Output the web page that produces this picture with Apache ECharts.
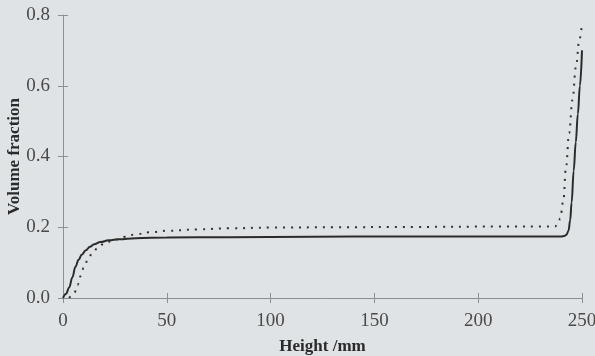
<!DOCTYPE html>
<html>
<head>
<meta charset="utf-8">
<style>
  html, body { margin: 0; padding: 0; background: #dfe3e5; }
  #chart { width: 595px; height: 356px; }
</style>
<script src="https://cdn.jsdelivr.net/npm/echarts@6/dist/echarts.min.js"></script>
</head>
<body>
<div id="chart"></div>
<script>
// Volume fraction profile along the column height, two model results
const xTicks = [0, 50, 100, 150, 200, 250];
const yTicks = [0.0, 0.2, 0.4, 0.6, 0.8];

// Solid curve: [height mm, volume fraction]
const solidHeight = [0, 1.5, 3, 4.5, 6, 7.5, 9, 11, 13, 15, 18, 22, 27, 35, 50, 80, 120, 160, 200, 230, 240, 241.5, 242.5, 243.5, 244.3, 245, 246, 247, 248, 249, 250];
const solidFraction = [0, 0.012, 0.03, 0.058, 0.088, 0.108, 0.122, 0.135, 0.145, 0.152, 0.158, 0.163, 0.166, 0.169, 0.171, 0.172, 0.173, 0.174, 0.174, 0.174, 0.174, 0.175, 0.179, 0.19, 0.22, 0.27, 0.36, 0.44, 0.52, 0.6, 0.70];

// Dotted curve: [height mm, volume fraction]
const dottedHeight = [3, 4.5, 5.5, 7, 8.5, 10, 12, 14, 16.5, 20, 25, 30, 35, 42, 50, 65, 80, 100, 130, 170, 210, 237, 238.5, 239.5, 241, 242.3, 243.8, 245.4, 247.1, 248.7, 250];
const dottedFraction = [0, 0.008, 0.015, 0.037, 0.062, 0.085, 0.108, 0.126, 0.14, 0.155, 0.165, 0.173, 0.18, 0.186, 0.19, 0.194, 0.197, 0.199, 0.2, 0.201, 0.202, 0.202, 0.21, 0.225, 0.275, 0.37, 0.466, 0.56, 0.654, 0.729, 0.776];

const pairs = (xs, ys) => xs.map((x, i) => [x, ys[i]]);

const serif = '"Liberation Serif", "DejaVu Serif", serif';
const axisGrey = '#8c8f91';
const inkColor = '#2b2b2b';

const xMin = xTicks[0], xMax = xTicks[xTicks.length - 1];
const xStep = xTicks[1] - xTicks[0];
const yMin = yTicks[0], yMax = yTicks[yTicks.length - 1];
const yStep = yTicks[1] - yTicks[0];

const chart = echarts.init(document.getElementById('chart'), null, { renderer: 'canvas' });

chart.setOption({
  backgroundColor: '#dfe3e5',
  animation: false,
  grid: { left: 63, right: 13, top: 15, bottom: 58, containLabel: false, outerBoundsMode: 'none' },
  xAxis: [
    {
      type: 'value', min: xMin, max: xMax, interval: xStep,
      name: 'Height /mm', nameLocation: 'middle', nameGap: 40, nameMoveOverlap: false,
      nameTextStyle: { fontFamily: serif, fontSize: 17, fontWeight: 'bold', color: '#2a2a2a' },
      axisLine: { show: true, lineStyle: { color: axisGrey, width: 1 } },
      axisTick: { show: true, inside: false, length: 5, lineStyle: { color: axisGrey } },
      axisLabel: { fontFamily: serif, fontSize: 19, color: '#4a4a4a', margin: 14 },
      splitLine: { show: false }
    },
    {
      type: 'value', min: xMin, max: xMax, interval: xStep, position: 'bottom',
      axisLine: { show: false },
      axisTick: { show: true, inside: true, length: 5, lineStyle: { color: axisGrey } },
      axisLabel: { show: false },
      splitLine: { show: false }
    }
  ],
  yAxis: [
    {
      type: 'value', min: yMin, max: yMax, interval: yStep,
      name: 'Volume fraction', nameLocation: 'middle', nameGap: 40, nameMoveOverlap: false,
      nameTextStyle: { fontFamily: serif, fontSize: 17, fontWeight: 'bold', color: '#2a2a2a' },
      axisLine: { show: true, lineStyle: { color: axisGrey, width: 1 } },
      axisTick: { show: true, inside: false, length: 5, lineStyle: { color: axisGrey } },
      axisLabel: {
        fontFamily: serif, fontSize: 19, color: '#4a4a4a', margin: 13,
        formatter: v => v.toFixed(1)
      },
      splitLine: { show: false }
    },
    {
      type: 'value', min: yMin, max: yMax, interval: yStep, position: 'left',
      axisLine: { show: false },
      axisTick: { show: true, inside: true, length: 5, lineStyle: { color: axisGrey } },
      axisLabel: { show: false },
      splitLine: { show: false }
    }
  ],
  series: [
    {
      name: 'solid', type: 'line', xAxisIndex: 0, yAxisIndex: 0,
      data: pairs(solidHeight, solidFraction),
      showSymbol: false, smooth: 0.4, smoothMonotone: 'x',
      lineStyle: { color: inkColor, width: 2 }
    },
    {
      name: 'dotted', type: 'line', xAxisIndex: 0, yAxisIndex: 0,
      data: pairs(dottedHeight, dottedFraction),
      showSymbol: false, smooth: 0.4, smoothMonotone: 'x',
      lineStyle: { color: '#333333', width: 2, type: [2, 6], cap: 'butt' }
    }
  ]
});
</script>
</body>
</html>
